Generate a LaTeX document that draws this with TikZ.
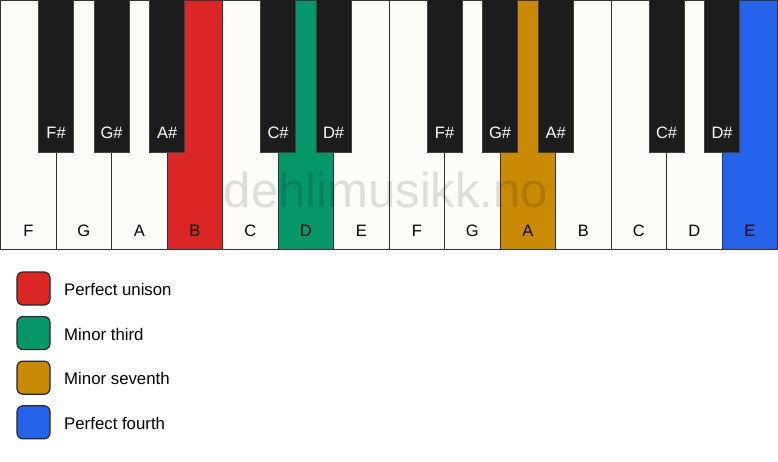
\documentclass[tikz,border=0pt]{standalone}
\usepackage{fontspec}
\setmainfont{Liberation Sans}
\begin{document}
\begin{tikzpicture}[x=1pt,y=-1pt,
  white/.style={draw=black!80,line width=1.2pt,fill=keywhite},
  blackkey/.style={draw=black!75,line width=0.8pt,fill=keyblack},
  wlabel/.style={font=\fontsize{16.5}{16.5}\selectfont,text=black,anchor=base},
  blabel/.style={font=\fontsize{16.5}{16.5}\selectfont,text=white,anchor=base},
  legbox/.style={draw=black!85,line width=1.2pt,rounded corners=6pt},
  legtext/.style={font=\fontsize{16.8}{16.8}\selectfont,anchor=base west,inner sep=0pt}]
\definecolor{keywhite}{HTML}{FDFCF9}
\definecolor{keyblack}{HTML}{1C1C1C}
\definecolor{cred}{HTML}{DC2626}
\definecolor{cgreen}{HTML}{059669}
\definecolor{corange}{HTML}{CA8A04}
\definecolor{cblue}{HTML}{2563EB}
\useasboundingbox[fill=white] (0,0) rectangle (778,461);
% white keys
\def\kw{55.5}
\foreach \i/\n/\c in {0/F/keywhite,1/G/keywhite,2/A/keywhite,3/B/cred,4/C/keywhite,5/D/cgreen,6/E/keywhite,7/F/keywhite,8/G/keywhite,9/A/corange,10/B/keywhite,11/C/keywhite,12/D/keywhite,13/E/cblue}{
  \path[white,fill=\c] (\i*\kw+0.6,0) rectangle ++(\kw,249.5);
  \node[wlabel] (w\i) at (\i*\kw+0.6+\kw/2,236) {\n};
}
% watermark
\node[font=\fontsize{49}{49}\selectfont,text=black,text opacity=0.12,anchor=base] (wm) at (386,207) {dehlimusikk.no};
% black keys
\foreach \i/\n in {1/F\#,2/G\#,3/A\#,5/C\#,6/D\#,8/F\#,9/G\#,10/A\#,12/C\#,13/D\#}{
  \path[blackkey] (\i*\kw+0.6-17.5,-1) rectangle ++(35,153.5);
  \node[blabel] (b\i) at (\i*\kw+0.6,138.5) {\n};
}
% legend
\foreach \j/\c/\t in {0/cred/Perfect unison,1/cgreen/Minor third,2/corange/Minor seventh,3/cblue/Perfect fourth}{
  \path[legbox,fill=\c] (17,272+\j*44.6) rectangle ++(33,33);
  \node[legtext] (l\j) at (64,295.5+\j*44.6) {\t};
}
\end{tikzpicture}
\end{document}
